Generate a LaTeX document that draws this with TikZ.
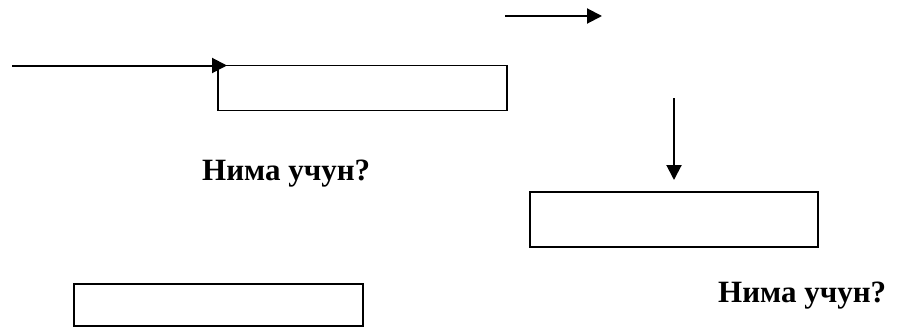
\documentclass[tikz,border=0pt]{standalone}
\usepackage{fontspec}
\setmainfont{Liberation Serif}
\usetikzlibrary{arrows.meta}
\begin{document}
\begin{tikzpicture}[x=1pt,y=-1pt,
  blank/.style={draw=black,line width=1.6pt,minimum width=#1,minimum height=45pt,inner sep=0pt,outer sep=0pt,anchor=north west},
  flow/.style={line width=2pt,-{Triangle[length=15pt,width=15pt]}},
  question/.style={font=\bfseries\fontsize{31}{36}\selectfont,anchor=base west,inner sep=0pt}]
  \useasboundingbox (0,0) rectangle (901,329);
  % empty answer boxes
  \node[blank=289pt] (b1) at (218,65.5) {};
  \node[blank=288pt,minimum height=55pt] (b2) at (530,192) {};
  \node[blank=289pt,minimum height=42pt] (b3) at (74,284) {};
  % questions
  \node[question] (q1) at (202,180) {Нима учун?};
  \node[question] (q2) at (718,302) {Нима учун?};
  % arrows
  \coordinate (a1s) at (12,65.5);
  \coordinate (a1e) at (227,65.5);
  \coordinate (a2s) at (505,16);
  \coordinate (a2e) at (602,16);
  \coordinate (a3s) at (674,98);
  \coordinate (a3e) at (674,180);
  \draw[flow] (a1s) -- (a1e);
  \draw[flow] (a2s) -- (a2e);
  \draw[flow] (a3s) -- (a3e);
\end{tikzpicture}
\end{document}
